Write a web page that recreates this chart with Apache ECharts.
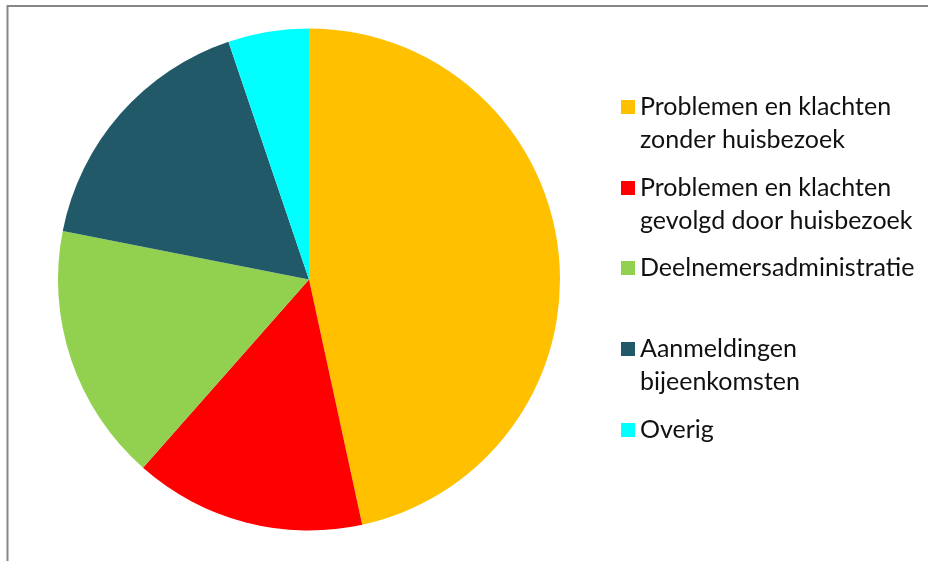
<!DOCTYPE html>
<html><head><meta charset="utf-8">
<script src="https://cdn.jsdelivr.net/npm/echarts@6/dist/echarts.min.js"></script>
<style>html,body{margin:0;padding:0;background:#fff}#c{width:928px;height:561px}</style>
</head><body><div id="c"></div>
<script>
const categories = [
  'Problemen en klachten\nzonder huisbezoek',
  'Problemen en klachten\ngevolgd door huisbezoek',
  'Deelnemersadministratie',
  'Aanmeldingen\nbijeenkomsten',
  'Overig'
];
const values = [46.6, 14.9, 16.6, 16.7, 5.2];
const colors = ['#FFC000', '#FF0000', '#92D050', '#215968', '#00FFFF'];
const legendMarkerY = [107, 188, 268, 349, 430];

const FONT = 'Lato';
const FS = 25;
const LH = 33;

const chart = echarts.init(document.getElementById('c'), null, {renderer: 'canvas'});
const legends = categories.map((name, i) => {
  const lines = name.split('\n').length;
  // for multi-line entries, prepend empty lines so the first text line sits beside the marker
  const extra = lines - 1;
  const totalLines = lines + extra;
  const halfBox = (totalLines * LH) / 2;
  return {
    orient: 'vertical',
    left: 621,
    top: legendMarkerY[i] - halfBox,
    padding: 0,
    itemWidth: 14,
    itemHeight: 14,
    icon: 'rect',
    selectedMode: false,
    data: [{name: name}],
    formatter: n => '\n'.repeat(extra) + n,
    textStyle: {
      fontFamily: FONT, fontSize: FS, color: '#111', lineHeight: LH
    }
  };
});

chart.setOption({
  animation: false,
  backgroundColor: '#fff',
  color: colors,
  legend: legends,
  graphic: [{
    type: 'polyline',
    shape: {points: [[7.5, 600], [7.5, 6], [940, 6]]},
    style: {stroke: '#868686', lineWidth: 2, fill: null},
    silent: true
  }],
  series: [{
    type: 'pie',
    center: [309, 279.5],
    radius: 251,
    startAngle: 90,
    clockwise: true,
    label: {show: false},
    labelLine: {show: false},
    itemStyle: {borderWidth: 0},
    emphasis: {disabled: true},
    data: categories.map((c, i) => ({name: c, value: values[i]}))
  }]
});
</script></body></html>
